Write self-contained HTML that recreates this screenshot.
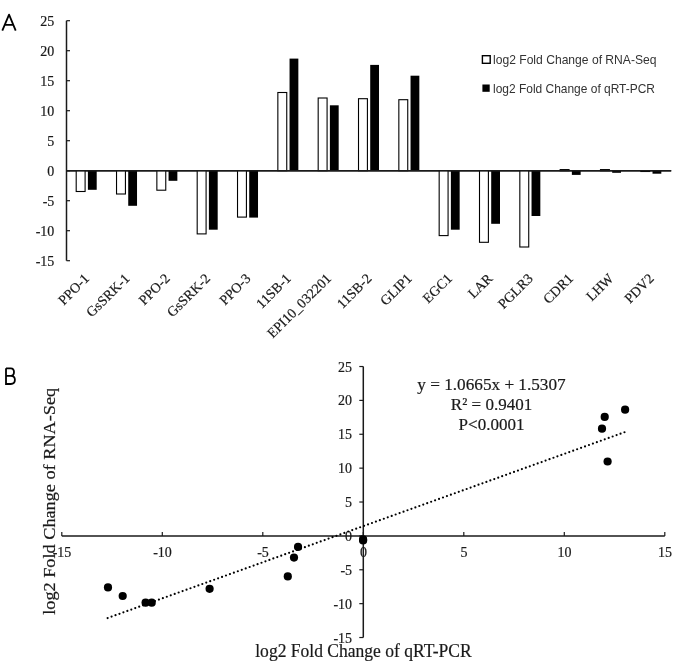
<!DOCTYPE html>
<html><head><meta charset="utf-8"><style>
html,body{margin:0;padding:0;background:#fff;}
body{width:685px;height:663px;overflow:hidden;font-family:"Liberation Serif",serif;}
svg{display:block;filter:blur(0.3px);}
</style></head><body>
<svg width="685" height="663" viewBox="0 0 685 663">
<rect width="685" height="663" fill="#fff"/>
<path d="M2.3,30.6 L9.05,14.6 L15.7,30.6 M5.2,24.8 H13.0" fill="none" stroke="#000" stroke-width="1.8" stroke-linejoin="round"/>
<path d="M6,368.3 V384 H10.8 C13.8,384 14.9,382.2 14.9,379.8 C14.9,377.4 13.5,375.9 10.8,375.9 H6 M10.8,375.9 C13.0,375.9 14.0,374.4 14.0,372.1 C14.0,369.8 12.9,368.3 10.8,368.3 H6" fill="none" stroke="#000" stroke-width="1.8"/>
<line x1="66.5" y1="20.7" x2="66.5" y2="260.7" stroke="#1a1a1a" stroke-width="1.5"/>
<line x1="66.5" y1="20.7" x2="70" y2="20.7" stroke="#1a1a1a" stroke-width="1.2"/>
<text x="54.3" y="26.2" font-family="Liberation Serif, serif" stroke="#1a1a1a" stroke-width="0.2" font-size="14" text-anchor="end" fill="#1a1a1a">25</text>
<line x1="66.5" y1="50.7" x2="70" y2="50.7" stroke="#1a1a1a" stroke-width="1.2"/>
<text x="54.3" y="56.2" font-family="Liberation Serif, serif" stroke="#1a1a1a" stroke-width="0.2" font-size="14" text-anchor="end" fill="#1a1a1a">20</text>
<line x1="66.5" y1="80.7" x2="70" y2="80.7" stroke="#1a1a1a" stroke-width="1.2"/>
<text x="54.3" y="86.2" font-family="Liberation Serif, serif" stroke="#1a1a1a" stroke-width="0.2" font-size="14" text-anchor="end" fill="#1a1a1a">15</text>
<line x1="66.5" y1="110.7" x2="70" y2="110.7" stroke="#1a1a1a" stroke-width="1.2"/>
<text x="54.3" y="116.2" font-family="Liberation Serif, serif" stroke="#1a1a1a" stroke-width="0.2" font-size="14" text-anchor="end" fill="#1a1a1a">10</text>
<line x1="66.5" y1="140.7" x2="70" y2="140.7" stroke="#1a1a1a" stroke-width="1.2"/>
<text x="54.3" y="146.2" font-family="Liberation Serif, serif" stroke="#1a1a1a" stroke-width="0.2" font-size="14" text-anchor="end" fill="#1a1a1a">5</text>
<line x1="66.5" y1="170.7" x2="70" y2="170.7" stroke="#1a1a1a" stroke-width="1.2"/>
<text x="54.3" y="176.2" font-family="Liberation Serif, serif" stroke="#1a1a1a" stroke-width="0.2" font-size="14" text-anchor="end" fill="#1a1a1a">0</text>
<line x1="66.5" y1="200.7" x2="70" y2="200.7" stroke="#1a1a1a" stroke-width="1.2"/>
<text x="54.3" y="206.2" font-family="Liberation Serif, serif" stroke="#1a1a1a" stroke-width="0.2" font-size="14" text-anchor="end" fill="#1a1a1a">-5</text>
<line x1="66.5" y1="230.7" x2="70" y2="230.7" stroke="#1a1a1a" stroke-width="1.2"/>
<text x="54.3" y="236.2" font-family="Liberation Serif, serif" stroke="#1a1a1a" stroke-width="0.2" font-size="14" text-anchor="end" fill="#1a1a1a">-10</text>
<line x1="66.5" y1="260.7" x2="70" y2="260.7" stroke="#1a1a1a" stroke-width="1.2"/>
<text x="54.3" y="266.2" font-family="Liberation Serif, serif" stroke="#1a1a1a" stroke-width="0.2" font-size="14" text-anchor="end" fill="#1a1a1a">-15</text>
<line x1="66.5" y1="170.7" x2="671.2" y2="170.7" stroke="#1a1a1a" stroke-width="1.5"/>
<rect x="76.20" y="170.70" width="8.9" height="20.80" fill="#fff" stroke="#000" stroke-width="1.1"/>
<rect x="87.90" y="170.70" width="8.8" height="19.10" fill="#000"/>
<rect x="116.53" y="170.70" width="8.9" height="23.30" fill="#fff" stroke="#000" stroke-width="1.1"/>
<rect x="128.23" y="170.70" width="8.8" height="35.10" fill="#000"/>
<rect x="156.86" y="170.70" width="8.9" height="19.50" fill="#fff" stroke="#000" stroke-width="1.1"/>
<rect x="168.56" y="170.70" width="8.8" height="10.10" fill="#000"/>
<rect x="197.19" y="170.70" width="8.9" height="63.20" fill="#fff" stroke="#000" stroke-width="1.1"/>
<rect x="208.89" y="170.70" width="8.8" height="59.00" fill="#000"/>
<rect x="237.52" y="170.70" width="8.9" height="46.40" fill="#fff" stroke="#000" stroke-width="1.1"/>
<rect x="249.22" y="170.70" width="8.8" height="46.90" fill="#000"/>
<rect x="277.85" y="92.50" width="8.9" height="78.20" fill="#fff" stroke="#000" stroke-width="1.1"/>
<rect x="289.55" y="58.60" width="8.8" height="112.10" fill="#000"/>
<rect x="318.18" y="98.00" width="8.9" height="72.70" fill="#fff" stroke="#000" stroke-width="1.1"/>
<rect x="329.88" y="105.30" width="8.8" height="65.40" fill="#000"/>
<rect x="358.51" y="98.70" width="8.9" height="72.00" fill="#fff" stroke="#000" stroke-width="1.1"/>
<rect x="370.21" y="64.90" width="8.8" height="105.80" fill="#000"/>
<rect x="398.84" y="99.70" width="8.9" height="71.00" fill="#fff" stroke="#000" stroke-width="1.1"/>
<rect x="410.54" y="75.70" width="8.8" height="95.00" fill="#000"/>
<rect x="439.17" y="170.70" width="8.9" height="64.90" fill="#fff" stroke="#000" stroke-width="1.1"/>
<rect x="450.87" y="170.70" width="8.8" height="59.00" fill="#000"/>
<rect x="479.50" y="170.70" width="8.9" height="71.60" fill="#fff" stroke="#000" stroke-width="1.1"/>
<rect x="491.20" y="170.70" width="8.8" height="53.10" fill="#000"/>
<rect x="519.83" y="170.70" width="8.9" height="76.30" fill="#fff" stroke="#000" stroke-width="1.1"/>
<rect x="531.53" y="170.70" width="8.8" height="45.30" fill="#000"/>
<rect x="560.16" y="169.60" width="8.9" height="1.10" fill="#fff" stroke="#000" stroke-width="1.1"/>
<rect x="571.86" y="170.70" width="8.8" height="4.20" fill="#000"/>
<rect x="600.49" y="169.60" width="8.9" height="1.10" fill="#fff" stroke="#000" stroke-width="1.1"/>
<rect x="612.19" y="170.70" width="8.8" height="2.10" fill="#000"/>
<rect x="640.82" y="170.70" width="8.9" height="0.80" fill="#fff" stroke="#000" stroke-width="1.1"/>
<rect x="652.52" y="170.70" width="8.8" height="3.00" fill="#000"/>
<line x1="66.5" y1="170.7" x2="671.2" y2="170.7" stroke="#1a1a1a" stroke-width="1.5"/>
<text transform="translate(90.06,279.3) rotate(-45)" font-family="Liberation Serif, serif" stroke="#1a1a1a" stroke-width="0.2" font-size="14" text-anchor="end" fill="#1a1a1a">PPO-1</text>
<text transform="translate(130.39,279.3) rotate(-45)" font-family="Liberation Serif, serif" stroke="#1a1a1a" stroke-width="0.2" font-size="14" text-anchor="end" fill="#1a1a1a">GsSRK-1</text>
<text transform="translate(170.72,279.3) rotate(-45)" font-family="Liberation Serif, serif" stroke="#1a1a1a" stroke-width="0.2" font-size="14" text-anchor="end" fill="#1a1a1a">PPO-2</text>
<text transform="translate(211.05,279.3) rotate(-45)" font-family="Liberation Serif, serif" stroke="#1a1a1a" stroke-width="0.2" font-size="14" text-anchor="end" fill="#1a1a1a">GsSRK-2</text>
<text transform="translate(251.38,279.3) rotate(-45)" font-family="Liberation Serif, serif" stroke="#1a1a1a" stroke-width="0.2" font-size="14" text-anchor="end" fill="#1a1a1a">PPO-3</text>
<text transform="translate(291.72,279.3) rotate(-45)" font-family="Liberation Serif, serif" stroke="#1a1a1a" stroke-width="0.2" font-size="14" text-anchor="end" fill="#1a1a1a">11SB-1</text>
<text transform="translate(332.05,279.3) rotate(-45)" font-family="Liberation Serif, serif" stroke="#1a1a1a" stroke-width="0.2" font-size="14" text-anchor="end" fill="#1a1a1a">EPI10_032201</text>
<text transform="translate(372.38,279.3) rotate(-45)" font-family="Liberation Serif, serif" stroke="#1a1a1a" stroke-width="0.2" font-size="14" text-anchor="end" fill="#1a1a1a">11SB-2</text>
<text transform="translate(412.71,279.3) rotate(-45)" font-family="Liberation Serif, serif" stroke="#1a1a1a" stroke-width="0.2" font-size="14" text-anchor="end" fill="#1a1a1a">GLIP1</text>
<text transform="translate(453.04,279.3) rotate(-45)" font-family="Liberation Serif, serif" stroke="#1a1a1a" stroke-width="0.2" font-size="14" text-anchor="end" fill="#1a1a1a">EGC1</text>
<text transform="translate(493.37,279.3) rotate(-45)" font-family="Liberation Serif, serif" stroke="#1a1a1a" stroke-width="0.2" font-size="14" text-anchor="end" fill="#1a1a1a">LAR</text>
<text transform="translate(533.69,279.3) rotate(-45)" font-family="Liberation Serif, serif" stroke="#1a1a1a" stroke-width="0.2" font-size="14" text-anchor="end" fill="#1a1a1a">PGLR3</text>
<text transform="translate(574.02,279.3) rotate(-45)" font-family="Liberation Serif, serif" stroke="#1a1a1a" stroke-width="0.2" font-size="14" text-anchor="end" fill="#1a1a1a">CDR1</text>
<text transform="translate(614.35,279.3) rotate(-45)" font-family="Liberation Serif, serif" stroke="#1a1a1a" stroke-width="0.2" font-size="14" text-anchor="end" fill="#1a1a1a">LHW</text>
<text transform="translate(654.68,279.3) rotate(-45)" font-family="Liberation Serif, serif" stroke="#1a1a1a" stroke-width="0.2" font-size="14" text-anchor="end" fill="#1a1a1a">PDV2</text>
<rect x="482.4" y="55.7" width="7.8" height="7.6" fill="#fff" stroke="#000" stroke-width="1.4"/>
<rect x="482.4" y="84.5" width="7.3" height="7.3" fill="#000"/>
<text x="493" y="63.5" font-family="Liberation Sans, sans-serif" font-size="13" textLength="163.5" lengthAdjust="spacingAndGlyphs" fill="#333">log2 Fold Change of RNA-Seq</text>
<text x="493" y="92.5" font-family="Liberation Sans, sans-serif" font-size="13" textLength="162" lengthAdjust="spacingAndGlyphs" fill="#333">log2 Fold Change of qRT-PCR</text>
<line x1="61.80" y1="535.9" x2="664.80" y2="535.9" stroke="#1a1a1a" stroke-width="1.5"/>
<line x1="363.3" y1="366.52" x2="363.3" y2="637.52" stroke="#1a1a1a" stroke-width="1.5"/>
<line x1="61.80" y1="535.9" x2="61.80" y2="531.9" stroke="#1a1a1a" stroke-width="1.2"/>
<text x="62.00" y="557" font-family="Liberation Serif, serif" stroke="#1a1a1a" stroke-width="0.2" font-size="14" text-anchor="middle" fill="#1a1a1a">-15</text>
<line x1="162.30" y1="535.9" x2="162.30" y2="531.9" stroke="#1a1a1a" stroke-width="1.2"/>
<text x="162.50" y="557" font-family="Liberation Serif, serif" stroke="#1a1a1a" stroke-width="0.2" font-size="14" text-anchor="middle" fill="#1a1a1a">-10</text>
<line x1="262.80" y1="535.9" x2="262.80" y2="531.9" stroke="#1a1a1a" stroke-width="1.2"/>
<text x="263.00" y="557" font-family="Liberation Serif, serif" stroke="#1a1a1a" stroke-width="0.2" font-size="14" text-anchor="middle" fill="#1a1a1a">-5</text>
<line x1="363.30" y1="535.9" x2="363.30" y2="531.9" stroke="#1a1a1a" stroke-width="1.2"/>
<text x="363.50" y="557" font-family="Liberation Serif, serif" stroke="#1a1a1a" stroke-width="0.2" font-size="14" text-anchor="middle" fill="#1a1a1a">0</text>
<line x1="463.80" y1="535.9" x2="463.80" y2="531.9" stroke="#1a1a1a" stroke-width="1.2"/>
<text x="464.00" y="557" font-family="Liberation Serif, serif" stroke="#1a1a1a" stroke-width="0.2" font-size="14" text-anchor="middle" fill="#1a1a1a">5</text>
<line x1="564.30" y1="535.9" x2="564.30" y2="531.9" stroke="#1a1a1a" stroke-width="1.2"/>
<text x="564.50" y="557" font-family="Liberation Serif, serif" stroke="#1a1a1a" stroke-width="0.2" font-size="14" text-anchor="middle" fill="#1a1a1a">10</text>
<line x1="664.80" y1="535.9" x2="664.80" y2="531.9" stroke="#1a1a1a" stroke-width="1.2"/>
<text x="665.00" y="557" font-family="Liberation Serif, serif" stroke="#1a1a1a" stroke-width="0.2" font-size="14" text-anchor="middle" fill="#1a1a1a">15</text>
<line x1="359.3" y1="637.52" x2="363.3" y2="637.52" stroke="#1a1a1a" stroke-width="1.2"/>
<text x="352.1" y="642.52" font-family="Liberation Serif, serif" stroke="#1a1a1a" stroke-width="0.2" font-size="14" text-anchor="end" fill="#1a1a1a">-15</text>
<line x1="359.3" y1="603.65" x2="363.3" y2="603.65" stroke="#1a1a1a" stroke-width="1.2"/>
<text x="352.1" y="608.65" font-family="Liberation Serif, serif" stroke="#1a1a1a" stroke-width="0.2" font-size="14" text-anchor="end" fill="#1a1a1a">-10</text>
<line x1="359.3" y1="569.77" x2="363.3" y2="569.77" stroke="#1a1a1a" stroke-width="1.2"/>
<text x="352.1" y="574.77" font-family="Liberation Serif, serif" stroke="#1a1a1a" stroke-width="0.2" font-size="14" text-anchor="end" fill="#1a1a1a">-5</text>
<line x1="359.3" y1="535.90" x2="363.3" y2="535.90" stroke="#1a1a1a" stroke-width="1.2"/>
<text x="352.1" y="540.90" font-family="Liberation Serif, serif" stroke="#1a1a1a" stroke-width="0.2" font-size="14" text-anchor="end" fill="#1a1a1a">0</text>
<line x1="359.3" y1="502.02" x2="363.3" y2="502.02" stroke="#1a1a1a" stroke-width="1.2"/>
<text x="352.1" y="507.02" font-family="Liberation Serif, serif" stroke="#1a1a1a" stroke-width="0.2" font-size="14" text-anchor="end" fill="#1a1a1a">5</text>
<line x1="359.3" y1="468.15" x2="363.3" y2="468.15" stroke="#1a1a1a" stroke-width="1.2"/>
<text x="352.1" y="473.15" font-family="Liberation Serif, serif" stroke="#1a1a1a" stroke-width="0.2" font-size="14" text-anchor="end" fill="#1a1a1a">10</text>
<line x1="359.3" y1="434.27" x2="363.3" y2="434.27" stroke="#1a1a1a" stroke-width="1.2"/>
<text x="352.1" y="439.27" font-family="Liberation Serif, serif" stroke="#1a1a1a" stroke-width="0.2" font-size="14" text-anchor="end" fill="#1a1a1a">15</text>
<line x1="359.3" y1="400.40" x2="363.3" y2="400.40" stroke="#1a1a1a" stroke-width="1.2"/>
<text x="352.1" y="405.40" font-family="Liberation Serif, serif" stroke="#1a1a1a" stroke-width="0.2" font-size="14" text-anchor="end" fill="#1a1a1a">20</text>
<line x1="359.3" y1="366.52" x2="363.3" y2="366.52" stroke="#1a1a1a" stroke-width="1.2"/>
<text x="352.1" y="371.52" font-family="Liberation Serif, serif" stroke="#1a1a1a" stroke-width="0.2" font-size="14" text-anchor="end" fill="#1a1a1a">25</text>
<line x1="107.63" y1="618.04" x2="624.60" y2="432.20" stroke="#000" stroke-width="2.2" stroke-dasharray="0 4.1926" stroke-linecap="round"/>
<circle cx="108" cy="587.4" r="4.1" fill="#000"/>
<circle cx="122.7" cy="596" r="4.1" fill="#000"/>
<circle cx="145.6" cy="602.7" r="4.1" fill="#000"/>
<circle cx="151.7" cy="602.7" r="4.1" fill="#000"/>
<circle cx="209.6" cy="588.8" r="4.1" fill="#000"/>
<circle cx="298.05" cy="546.9" r="4.1" fill="#000"/>
<circle cx="294" cy="557.6" r="4.1" fill="#000"/>
<circle cx="287.8" cy="576.4" r="4.1" fill="#000"/>
<circle cx="625.1" cy="409.7" r="4.1" fill="#000"/>
<circle cx="604.7" cy="416.9" r="4.1" fill="#000"/>
<circle cx="602" cy="428.7" r="4.1" fill="#000"/>
<circle cx="607.6" cy="461.5" r="4.1" fill="#000"/>
<circle cx="363.1" cy="539.4" r="4.1" fill="#000"/>
<circle cx="363.1" cy="540.4" r="4.1" fill="#000"/>
<text x="491.5" y="389.5" font-family="Liberation Serif, serif" stroke="#1a1a1a" stroke-width="0.2" font-size="17.2" text-anchor="middle" fill="#1a1a1a">y = 1.0665x + 1.5307</text>
<text x="491.5" y="409.8" font-family="Liberation Serif, serif" stroke="#1a1a1a" stroke-width="0.2" font-size="17" text-anchor="middle" fill="#1a1a1a">R² = 0.9401</text>
<text x="491.5" y="430.4" font-family="Liberation Serif, serif" stroke="#1a1a1a" stroke-width="0.2" font-size="17" text-anchor="middle" fill="#1a1a1a">P&lt;0.0001</text>
<text x="363.5" y="657.2" font-family="Liberation Serif, serif" stroke="#1a1a1a" stroke-width="0.2" font-size="18" text-anchor="middle" textLength="216.5" lengthAdjust="spacingAndGlyphs" fill="#1a1a1a">log2 Fold Change of qRT-PCR</text>
<text transform="translate(54.8,501.3) rotate(-90)" font-family="Liberation Serif, serif" stroke="#1a1a1a" stroke-width="0.2" font-size="17.5" text-anchor="middle" textLength="227" lengthAdjust="spacingAndGlyphs" fill="#1a1a1a">log2 Fold Change of RNA-Seq</text>
</svg>
</body></html>
